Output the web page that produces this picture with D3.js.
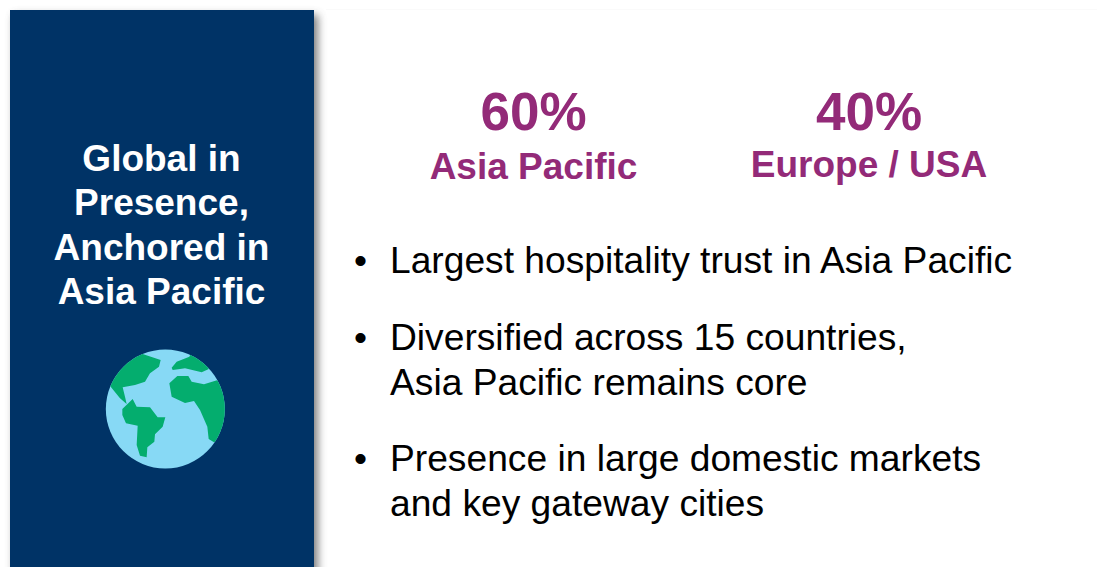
<!DOCTYPE html>
<html>
<head>
<meta charset="utf-8">
<script src="https://cdn.jsdelivr.net/npm/d3@7"></script>
<style>
  html, body { margin: 0; padding: 0; background: #fff; overflow: hidden; }
  text { font-family: "Liberation Sans", Arial, sans-serif; }
</style>
</head>
<body>
<div id="chart"></div>
<script>
const width = 1097;
const height = 567;

const titleLines = ["Global in", "Presence,", "Anchored in", "Asia Pacific"];
const shareValues = ["60%", "40%"];
const shareLabels = ["Asia Pacific", "Europe / USA"];
const bulletLines = [
  ["Largest hospitality trust in Asia Pacific"],
  ["Diversified across 15 countries,", "Asia Pacific remains core"],
  ["Presence in large domestic markets", "and key gateway cities"]
];

// globe outlines, in a 450x435 drawing box
const northAmerica = [[160,58],[212,75],[207,95],[180,115],[165,140],[135,150],[98,157],[105,185],[110,207],[90,190],[62,155],[30,120],[100,30]];
const southAmerica = [[128,192],[140,215],[180,217],[203,247],[226,247],[218,275],[195,298],[193,320],[172,337],[170,367],[150,362],[140,330],[143,272],[108,265],[97,240],[97,222]];
const europe = [[248,105],[245,98],[260,80],[298,65],[310,40],[370,80],[355,103],[335,112],[285,100],[270,102]];
const africa = [[262,123],[295,123],[305,140],[342,148],[381,136],[430,180],[420,300],[372,322],[356,312],[352,275],[330,225],[312,198],[285,204],[245,185],[238,145]];

const navy = "#003366";
const purple = "#932a78";

const svg = d3.select("#chart")
  .append("svg")
  .attr("width", width)
  .attr("height", height)
  .style("display", "block");

const defs = svg.append("defs");

const shadowBlur = defs.append("filter")
  .attr("id", "shadow-blur")
  .attr("x", "-10%").attr("width", "120%")
  .attr("y", "-10%").attr("height", "120%");
shadowBlur.append("feGaussianBlur").attr("stdDeviation", 4);

// faint edge of the slide body
svg.append("rect")
  .attr("x", 326).attr("y", 9)
  .attr("width", width - 326).attr("height", 1)
  .attr("fill", "#fafafa");

// Left panel
svg.append("rect")
  .attr("x", 14).attr("y", 15)
  .attr("width", 304).attr("height", height)
  .attr("fill", "#555")
  .attr("opacity", 0.75)
  .attr("filter", "url(#shadow-blur)");

svg.append("rect")
  .attr("x", 10).attr("y", 10)
  .attr("width", 304).attr("height", height)
  .attr("fill", navy);

svg.append("g")
  .selectAll("text")
  .data(titleLines)
  .join("text")
  .attr("x", 161.5)
  .attr("y", (d, i) => 171 + i * 44.4)
  .attr("text-anchor", "middle")
  .attr("font-size", 37)
  .attr("font-weight", "bold")
  .attr("fill", "#fff")
  .text(d => d);

// Globe
const gx = d3.scaleLinear().domain([0, 450]).range([90, 240]);
const gy = d3.scaleLinear().domain([0, 435]).range([335, 480]);
const outline = d3.line().x(d => gx(d[0])).y(d => gy(d[1])).curve(d3.curveLinearClosed);

defs.append("clipPath")
  .attr("id", "globe-clip")
  .append("circle")
  .attr("cx", gx(226)).attr("cy", gy(222)).attr("r", 59.5);

const globe = svg.append("g");

globe.append("circle")
  .attr("cx", gx(226)).attr("cy", gy(222)).attr("r", 59.5)
  .attr("fill", "#87d9f5");

globe.append("g")
  .attr("clip-path", "url(#globe-clip)")
  .selectAll("path")
  .data([northAmerica, southAmerica, europe, africa])
  .join("path")
  .attr("d", outline)
  .attr("fill", "#04ad6e");

// Share headline
const shareX = [533.5, 869];

svg.append("g")
  .selectAll("text")
  .data(shareValues)
  .join("text")
  .attr("x", (d, i) => shareX[i])
  .attr("y", 130)
  .attr("text-anchor", "middle")
  .attr("font-size", 53)
  .attr("font-weight", "bold")
  .attr("fill", purple)
  .text(d => d);

svg.append("g")
  .selectAll("text")
  .data(shareLabels)
  .join("text")
  .attr("x", (d, i) => shareX[i])
  .attr("y", (d, i) => i === 0 ? 179 : 177)
  .attr("text-anchor", "middle")
  .attr("font-size", 37)
  .attr("font-weight", "bold")
  .attr("fill", purple)
  .text(d => d);

// Bullets
const bulletTops = [273, 350, 471];

const bullets = svg.append("g")
  .selectAll("g")
  .data(bulletLines)
  .join("g")
  .attr("transform", (d, i) => `translate(0, ${bulletTops[i]})`);

bullets.append("text")
  .attr("x", 354)
  .attr("font-size", 37.2)
  .attr("fill", "#000")
  .text("•");

bullets.selectAll(".line")
  .data(d => d)
  .join("text")
  .attr("class", "line")
  .attr("x", 390)
  .attr("y", (d, i) => i * 45)
  .attr("font-size", 37.2)
  .attr("fill", "#000")
  .text(d => d);
</script>
</body>
</html>
